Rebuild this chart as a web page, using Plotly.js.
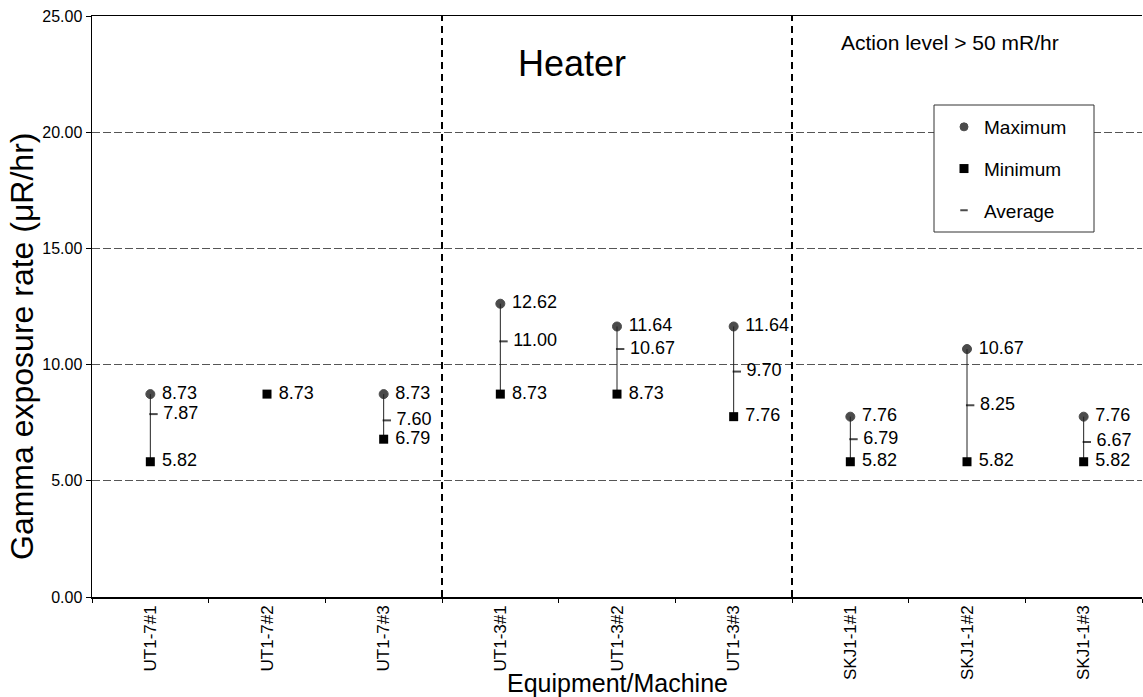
<!DOCTYPE html>
<html>
<head>
<meta charset="utf-8">
<script src="https://cdn.plot.ly/plotly-3.0.1.min.js"></script>
<style>
html,body{margin:0;padding:0;background:#fff;}
#chart{width:1143px;height:697px;}
</style>
</head>
<body>
<div id="chart"></div>
<script>
const categories = ['UT1-7#1','UT1-7#2','UT1-7#3','UT1-3#1','UT1-3#2','UT1-3#3','SKJ1-1#1','SKJ1-1#2','SKJ1-1#3'];
const maxVals = [8.73, 8.73, 8.73, 12.62, 11.64, 11.64, 7.76, 10.67, 7.76];
const minVals = [5.82, 8.73, 6.79, 8.73, 8.73, 7.76, 5.82, 5.82, 5.82];
const avgVals = [7.87, 8.73, 7.60, 11.00, 10.67, 9.70, 6.79, 8.25, 6.67];
const yTicks = [0, 5, 10, 15, 20, 25];
const groupBreaks = [2.5, 5.5];
const seriesNames = ['Maximum', 'Minimum', 'Average'];

const FONT = 'Liberation Sans, Arial, sans-serif';
const idx = categories.map((c, i) => i);
const fmt = v => v.toFixed(2);

const maxTrace = {
  type: 'scatter', mode: 'markers+text', name: seriesNames[0],
  x: categories, y: maxVals,
  text: maxVals.map((v, i) => v === minVals[i] ? '' : ' ' + fmt(v)),
  textposition: 'middle right',
  textfont: {family: FONT, size: 18, color: '#000'},
  marker: {symbol: 'circle', color: '#000', line: {width: 1, color: '#000'},
           size: maxVals.map((v, i) => v === minVals[i] ? 0 : 9)},
  legendgroup: 'a', cliponaxis: false, hoverinfo: 'skip'
};
const minTrace = {
  type: 'scatter', mode: 'markers+text', name: seriesNames[1],
  x: categories, y: minVals,
  text: minVals.map(v => ' ' + fmt(v)),
  textposition: 'middle right',
  textfont: {family: FONT, size: 18, color: '#000'},
  marker: {symbol: 'square', color: '#000', size: 9},
  error_y: {type: 'data', symmetric: false,
            array: maxVals.map((v, i) => v - minVals[i]),
            arrayminus: minVals.map(() => 0),
            width: 0, thickness: 1, color: '#222'},
  legendgroup: 'b', cliponaxis: false, hoverinfo: 'skip'
};
const avgTrace = {
  type: 'scatter', mode: 'markers+text', name: seriesNames[2],
  x: idx.map(i => i + 0.027), y: avgVals, xaxis: 'x2',
  text: avgVals.map((v, i) => v === minVals[i] ? '' : ' ' + fmt(v)),
  textposition: 'middle right',
  textfont: {family: FONT, size: 18, color: '#000'},
  marker: {symbol: 'line-ew', size: avgVals.map((v, i) => v === minVals[i] ? 0 : 6),
           line: {width: 2, color: '#000'}, color: '#000'},
  legendgroup: 'c', cliponaxis: false, hoverinfo: 'skip'
};

const shapes = groupBreaks.map(b => ({
  type: 'line', xref: 'x', yref: 'y', x0: b, x1: b, y0: 0, y1: 25,
  line: {color: '#000', width: 2, dash: '7px,5px'}
}));
// legend frame
shapes.push({
  type: 'rect', xref: 'paper', yref: 'paper',
  x0: (934 - 92) / 1050, x1: (1094 - 92) / 1050,
  y0: (597 - 232) / 581, y1: (597 - 105) / 581,
  line: {color: '#333', width: 1}, fillcolor: '#fff', layer: 'above'
});

const layout = {
  width: 1143, height: 697,
  margin: {l: 92, r: 1, t: 16, b: 100},
  paper_bgcolor: '#fff', plot_bgcolor: '#fff',
  font: {family: FONT, color: '#000'},
  showlegend: true,
  legend: {
    x: (944 - 92) / 1050, y: (597 - 108) / 581, xanchor: 'left', yanchor: 'top',
    borderwidth: 0, bgcolor: 'rgba(0,0,0,0)',
    font: {family: FONT, size: 19, color: '#000'},
    tracegroupgap: 14, itemsizing: 'trace'
  },
  xaxis: {
    type: 'category', categoryorder: 'array', categoryarray: categories,
    range: [-0.5, 8.5], tickson: 'boundaries',
    ticks: 'outside', ticklen: 4, tickcolor: '#000',
    tickangle: -90, tickfont: {family: FONT, size: 17, color: '#000'},
    showline: true, linecolor: '#000', linewidth: 1.5, mirror: true,
    showgrid: false, zeroline: false, fixedrange: true
  },
  xaxis2: {
    overlaying: 'x', range: [-0.5, 8.5], visible: false, fixedrange: true
  },
  yaxis: {
    range: [0, 25], tickvals: yTicks, tickformat: '.2f',
    ticks: 'outside', ticklen: 5, tickcolor: '#000',
    tickfont: {family: FONT, size: 16, color: '#000'},
    showline: true, linecolor: '#000', linewidth: 1.5,
    showgrid: true, gridcolor: '#555', gridwidth: 1, griddash: '8px,3px',
    zeroline: false, fixedrange: true
  },
  shapes: shapes,
  annotations: [
    {text: 'Heater', xref: 'paper', yref: 'paper', x: 0.457, y: 0.919,
     xanchor: 'center', yanchor: 'middle', showarrow: false,
     font: {family: FONT, size: 36, color: '#000'}},
    {text: 'Action level &gt; 50 mR/hr', xref: 'paper', yref: 'paper', x: 0.817, y: 0.955,
     xanchor: 'center', yanchor: 'middle', showarrow: false,
     font: {family: FONT, size: 21, color: '#000'}},
    {text: 'Gamma exposure rate (μR/hr)', xref: 'paper', yref: 'paper', x: -0.0667, y: 0.432,
     xanchor: 'center', yanchor: 'middle', textangle: -90, showarrow: false,
     font: {family: FONT, size: 32, color: '#000'}},
    {text: 'Equipment/Machine', xref: 'paper', yref: 'paper', x: 0.5, y: -0.148,
     xanchor: 'center', yanchor: 'middle', showarrow: false,
     font: {family: FONT, size: 25, color: '#000'}}
  ]
};

Plotly.newPlot('chart', [maxTrace, minTrace, avgTrace], layout, {displayModeBar: false, staticPlot: true});
</script>
</body>
</html>
